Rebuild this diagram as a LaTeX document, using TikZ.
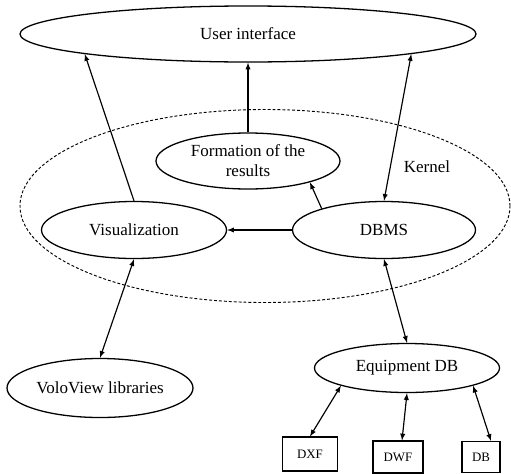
\documentclass[tikz,border=0pt]{standalone}
\usepackage{fontspec}
\setmainfont{Liberation Serif}
\usetikzlibrary{shapes.geometric}

\begin{document}
\begin{tikzpicture}[x=0.03cm, y=-0.03cm, >=latex,
    blob/.style={ellipse, draw, line width=1.1pt, inner sep=0pt, align=center,
        font=\fontsize{14.5}{17}\selectfont},
    filebox/.style={rectangle, draw, line width=0.9pt, inner sep=0pt,
        font=\fontsize{11}{13}\selectfont},
    link/.style={line width=1pt}]
    \useasboundingbox (0,0) rectangle (511,473);

    \node[ellipse, draw, line width=0.8pt, dash pattern=on 2.5pt off 1.7pt, minimum width=14.7cm, minimum height=5.79cm] (kernel) at (265,206) {};
    \node[font=\fontsize{14.5}{17}\selectfont] (klabel) at (427,167) {Kernel};

    \node[blob, minimum width=13.68cm, minimum height=1.68cm] (ui) at (248,34) {User interface};
    \node[blob, minimum width=5.52cm, minimum height=1.68cm] (form) at (248,161) {Formation of the\\results};
    \node[blob, minimum width=5.55cm, minimum height=1.71cm] (vis) at (134,230) {Visualization};
    \node[blob, minimum width=5.49cm, minimum height=1.71cm] (dbms) at (384,230) {DBMS};
    \node[blob, minimum width=5.58cm, minimum height=1.77cm] (volo) at (100,388) {VoloView libraries};
    \node[blob, minimum width=5.55cm, minimum height=1.47cm] (equip) at (407,368) {Equipment DB};

    \node[filebox, minimum width=1.65cm, minimum height=1.02cm] (dxf) at (310,454) {DXF};
    \node[filebox, minimum width=1.5cm, minimum height=0.96cm] (dwf) at (398,457) {DWF};
    \node[filebox, minimum width=1.14cm, minimum height=0.93cm] (db) at (481,457) {DB};

    \draw[link, ->] (vis.north) -- (ui.187);
    \draw[link, ->] (form) -- (ui);
    \draw[link, <->] (dbms.north) -- (ui.353);
    \draw[link, ->] (dbms.161) -- (form.341);
    \draw[link, ->] (dbms) -- (vis);
    \draw[link, <->] (vis.south) -- (volo.north);
    \draw[link, <->] (dbms.south) -- (equip.north);
    \draw[link, <->] (equip.195) -- (dxf.north);
    \draw[link, <->] (equip.south) -- ([xshift=0.12cm]dwf.north);
    \draw[link, <->] (equip.345) -- ([xshift=0.3cm]db.north);
\end{tikzpicture}
\end{document}
